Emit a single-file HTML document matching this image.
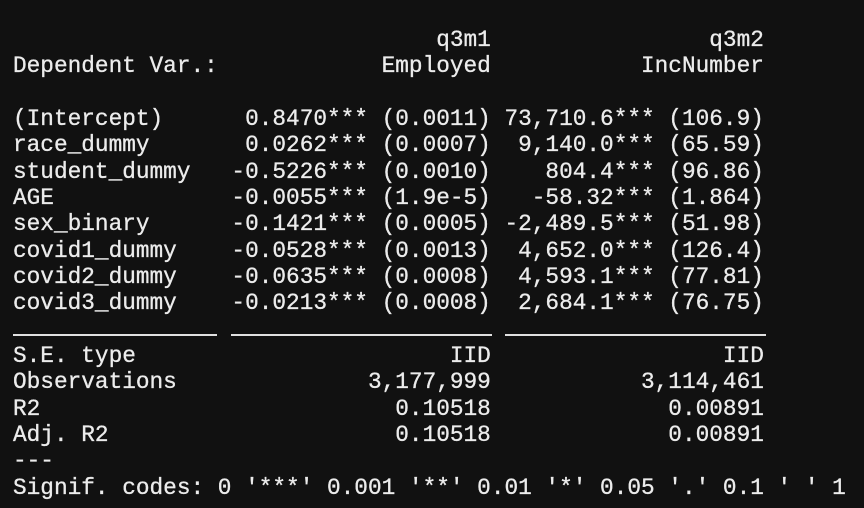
<!DOCTYPE html>
<html><head><meta charset="utf-8"><style>
html,body{margin:0;padding:0;background:#111111;}
#wrap{position:relative;width:864px;height:508px;overflow:hidden;background:#111111;}
pre{position:absolute;left:13px;top:27px;margin:0;font-family:"Liberation Mono",monospace;font-size:22.75px;line-height:26.33px;color:#ececec;-webkit-text-stroke:0.3px #ececec;}
.sep{position:absolute;top:334px;height:2px;background:#e0e0e0;}
</style></head><body>
<div id="wrap">
<pre>                               q3m1                q3m2
Dependent Var.:            Employed           IncNumber

(Intercept)      0.8470*** (0.0011) 73,710.6*** (106.9)
race_dummy       0.0262*** (0.0007)  9,140.0*** (65.59)
student_dummy   -0.5226*** (0.0010)    804.4*** (96.86)
AGE             -0.0055*** (1.9e-5)   -58.32*** (1.864)
sex_binary      -0.1421*** (0.0005) -2,489.5*** (51.98)
covid1_dummy    -0.0528*** (0.0013)  4,652.0*** (126.4)
covid2_dummy    -0.0635*** (0.0008)  4,593.1*** (77.81)
covid3_dummy    -0.0213*** (0.0008)  2,684.1*** (76.75)

S.E. type                       IID                 IID
Observations              3,177,999           3,114,461
R2                          0.10518             0.00891
Adj. R2                     0.10518             0.00891
---
Signif. codes: 0 '***' 0.001 '**' 0.01 '*' 0.05 '.' 0.1 ' ' 1</pre>
<div class="sep" style="left:13px;width:204px"></div>
<div class="sep" style="left:231px;width:261px"></div>
<div class="sep" style="left:505px;width:261px"></div>
</div>
</body></html>
